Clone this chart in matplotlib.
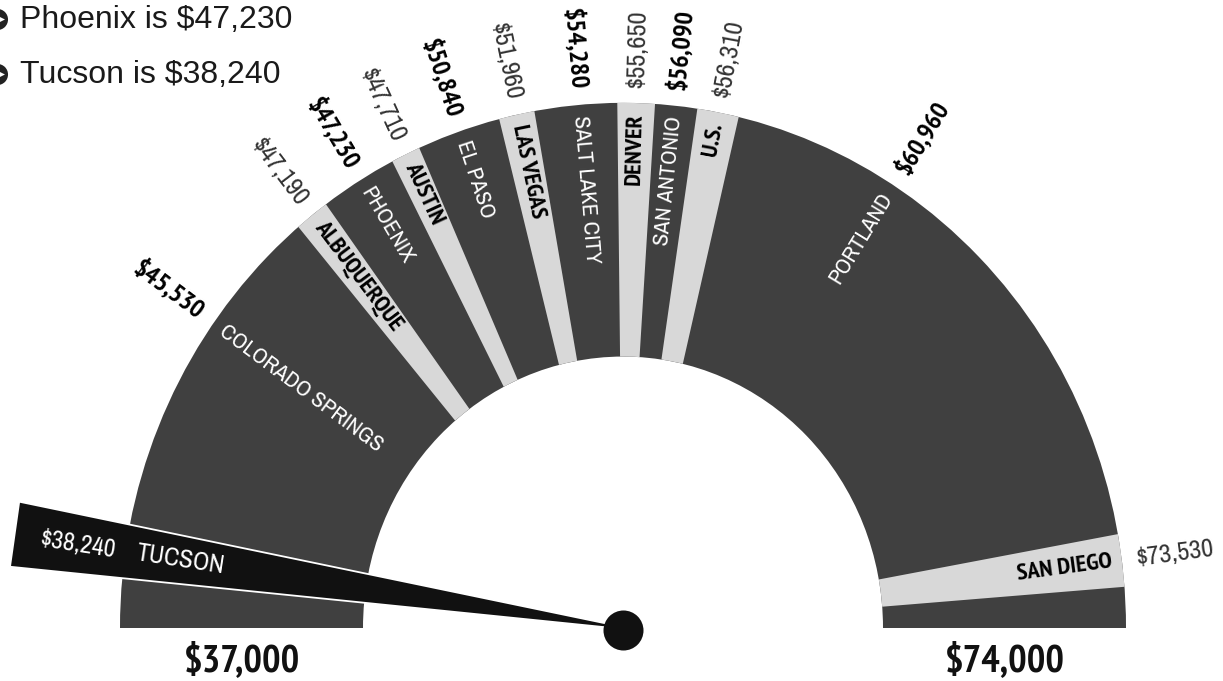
import os
import numpy as np
import matplotlib
matplotlib.use("Agg")
import matplotlib.pyplot as plt
from matplotlib.patches import Wedge, Polygon
from matplotlib import font_manager as fm

# ---------------- data ----------------
cities = ["COLORADO SPRINGS", "ALBUQUERQUE", "PHOENIX", "AUSTIN", "EL PASO",
          "LAS VEGAS", "SALT LAKE CITY", "DENVER", "SAN ANTONIO", "U.S.",
          "PORTLAND", "SAN DIEGO"]
incomes = [45530, 47190, 47230, 47710, 50840, 51960, 54280, 55650, 56090,
           56310, 60960, 73530]
needle_city = "TUCSON"
needle_income = 38240
scale_min, scale_max = 37000, 74000
legend_lines = ["Phoenix is $47,230", "Tucson is $38,240"]

# ---------------- dial scale (the dial is not drawn to linear scale) ----------------
# angular slot of each value on the dial, in increasing value order
dial_values = [scale_min, needle_income] + incomes + [scale_max]
dial_angles = [180, 171.6, 144.5, 128.2, 121.5, 115.6, 109.0, 102.2, 95.0,
               88.5, 84.0, 79.1, 57.5, 7.4, 0]


def dial(v):
    return float(np.interp(v, dial_values, dial_angles))


# ---------------- fonts: look for an installed condensed face ----------------
def _w(f):
    w = f.weight
    if isinstance(w, str):
        w = fm.weight_dict.get(w, 400)
    return w


def _rank(f):
    b = os.path.basename(f.fname)
    if "Narrow" in f.name or "Narrow" in b:
        return 0
    if "Condensed" in b and not any(x in b for x in ("Extra", "Semi", "Ultra")):
        return 1
    if "SemiCondensed" in b:
        return 3
    if "ExtraCondensed" in b:
        return 2
    if f.stretch == "condensed" or "Cond" in b:
        return 4
    return None


_cands = [f for f in fm.fontManager.ttflist
          if f.style == "normal" and _rank(f) is not None
          and f.fname.lower().endswith((".ttf", ".otf"))]


def _pick(target):
    if not _cands:
        return None
    best = min(_cands, key=lambda f: (_rank(f), abs(_w(f) - target)))
    return best.fname


COND_BOLD = _pick(700)
COND_REG = _pick(400)
CONDENSED = COND_BOLD is not None
shrink = 1.0 if CONDENSED else 0.8


def F(bold, size):
    path = COND_BOLD if bold else COND_REG
    if path:
        return fm.FontProperties(fname=path, size=size)
    return fm.FontProperties(family="DejaVu Sans", weight="bold" if bold else "normal",
                             size=size * shrink)


# ---------------- style ----------------
DARK = "#404040"
LIGHT = "#d8d8d8"
INK = "#111111"
R_OUT, R_IN = 503, 260
S = 1.044                      # vertical stretch of the dial (ellipse)
strip_width = [4.0, 3.4, 4.1, 4.3, 4.8, 5.8]
W, H = 1223, 681
CX, CY = 623, 628              # dial centre in pixels

fig = plt.figure(figsize=(W / 100, H / 100), dpi=100)
ax = fig.add_axes([0, 0, 1, 1])
ax.set_xlim(-CX, W - CX)
ax.set_ylim((CY - H) / S, CY / S)
ax.set_aspect("auto")
ax.axis("off")


def screen_angle(theta):
    t = np.radians(theta)
    return np.degrees(np.arctan2(S * np.sin(t), np.cos(t)))


def polar(theta, r):
    t = np.radians(theta)
    return r * np.cos(t), r * np.sin(t)


def radial_text(theta, r, s, anchor_outer, fp, **kw):
    """Text along the radius. anchor_outer: anchor is the outer end of the text."""
    phi = screen_angle(theta)
    x, y = polar(theta, r)
    if phi > 90:
        rot = phi - 180
        ha = "left" if anchor_outer else "right"
    else:
        rot = phi
        ha = "right" if anchor_outer else "left"
    ax.text(x, y, s, rotation=rot, rotation_mode="anchor", ha=ha, va="center",
            fontproperties=fp, **kw)


# dark band
ax.add_patch(Wedge((0, 0), R_OUT, 0, 180, width=R_OUT - R_IN, facecolor=DARK,
                   edgecolor="none"))

# light strips (every second city)
k = 0
for i, (c, v) in enumerate(zip(cities, incomes)):
    a = dial(v)
    light = (i % 2 == 1)
    if light:
        w = strip_width[k]
        k += 1
        ax.add_patch(Wedge((0, 0), R_OUT, a - w / 2, a + w / 2, width=R_OUT - R_IN,
                           facecolor=LIGHT, edgecolor="none"))
        radial_text(a, 493, c, True, F(True, 17.5), color="black")
        radial_text(a, 518, f"${v:,}", False, F(False, 19), color="#333333")
    else:
        radial_text(a, 493, c, True, F(False, 16.5), color="white")
        radial_text(a, 518, f"${v:,}", False, F(True, 19), color="black")

# needle
ta = dial(needle_income)
t = np.radians(ta)
u = np.array([np.cos(t), np.sin(t)])
n = np.array([-np.sin(t), np.cos(t)])
end = u * 615
hw = 31.5
needle = Polygon([n * 1.0, end + n * hw, end - n * hw, -n * 1.0], closed=True,
                 facecolor=INK, edgecolor="white", linewidth=1.3, joinstyle="miter",
                 zorder=5)
ax.add_patch(needle)
phi = screen_angle(ta)
for r, s in [(551, f"${needle_income:,}"), (447, needle_city)]:
    x, y = polar(ta, r)
    ax.text(x, y, s, rotation=phi - 180, rotation_mode="anchor", ha="center",
            va="center", fontproperties=F(False, 18.5), color="white", zorder=6)

ax.scatter([0], [-2], s=830, color=INK, zorder=7, linewidths=0)

# scale ends
for v in (scale_min, scale_max):
    x, _ = polar(dial(v), (R_OUT + R_IN) / 2)
    ax.text(x, -31, f"${v:,}", ha="center", va="center", fontproperties=F(True, 28),
            color=INK)

# legend lines top-left
for j, line in enumerate(legend_lines):
    ybase = 28 + 55 * j
    fig.text(20 / W, 1 - ybase / H, line, ha="left", va="baseline", fontsize=23,
             family=["Liberation Sans", "DejaVu Sans"], color="#1a1a1a")
    yc = (CY - (ybase - 9)) / S
    ax.scatter([-CX - 3], [yc], s=230, color="#222222", linewidths=0, zorder=8)
    ax.scatter([-CX + 1], [yc], s=25, marker=">", color="white", linewidths=0, zorder=9)

fig.savefig("out.png", dpi=100, facecolor="white")
